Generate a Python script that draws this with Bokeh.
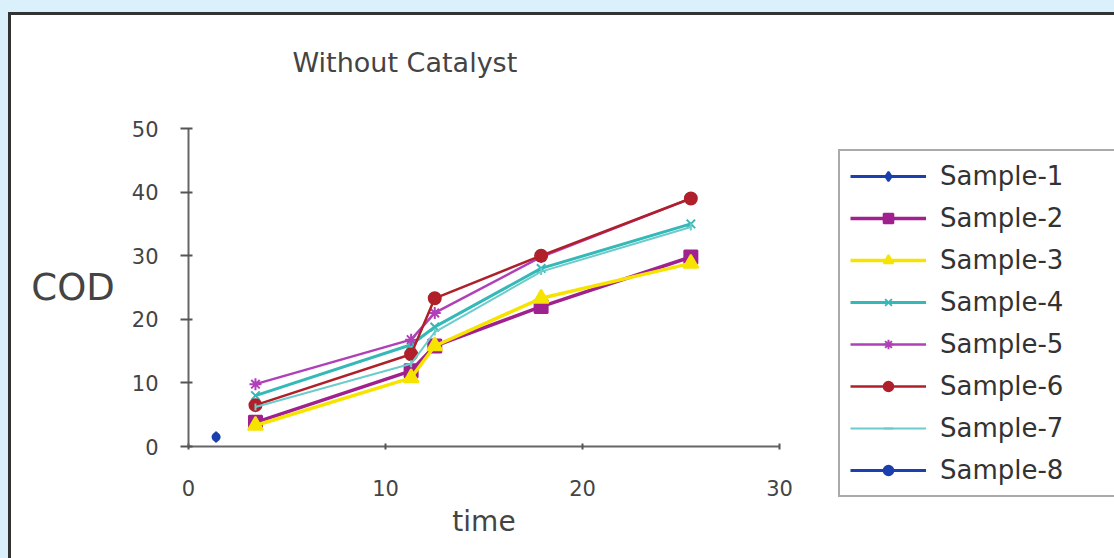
from bokeh.plotting import figure
from bokeh.models import Range1d, Legend, LegendItem, FixedTicker, Title
from bokeh.layouts import column, row
from bokeh.embed import file_html
from bokeh.resources import INLINE
import math

# ---- data ----
time_pts = [3.4, 11.3, 12.5, 17.9, 25.5]
sample1_x = [1.4]
sample1_y = [1.5]
sample2 = [3.8, 11.9, 15.8, 22.0, 29.8]
sample3 = [3.3, 10.8, 15.8, 23.3, 28.8]
sample4 = [8.0, 16.0, 18.8, 28.0, 35.0]
sample5 = [9.8, 16.8, 21.0, 29.8, 39.0]
sample6 = [6.5, 14.5, 23.3, 30.0, 39.0]
sample7 = [6.2, 13.0, 18.0, 27.5, 34.5]
sample8_x = [1.4]
sample8_y = [1.5]
x_ticks = [0, 10, 20, 30]
y_ticks = [0, 10, 20, 30, 40, 50]
labels = ["Sample-1", "Sample-2", "Sample-3", "Sample-4",
          "Sample-5", "Sample-6", "Sample-7", "Sample-8"]

OX, OY = 11, 15            # where the white panel starts in the page
SPLIT = 830                # page x where the legend figure starts
H = 558 - OY
FL, FR, FT, FB = 188 - OX, 779 - OX, 128 - OY, 446 - OY
PW = SPLIT - OX

FONT = "DejaVu Sans"

# ---------------- chart ----------------
p = figure(width=PW, height=H, output_backend="svg", toolbar_location=None,
           x_range=Range1d(0, 30), y_range=Range1d(0, 50),
           min_border_left=FL, min_border_right=PW - FR,
           min_border_top=FT, min_border_bottom=H - FB)
p.frame_align = False
p.border_fill_color = "white"
p.background_fill_color = "white"
p.outline_line_color = None
p.xgrid.visible = False
p.ygrid.visible = False

for ax in (p.xaxis[0], p.yaxis[0]):
    ax.axis_line_color = "#666666"
    ax.axis_line_width = 2
    ax.major_tick_line_color = "#555555"
    ax.major_tick_line_width = 2
    ax.minor_tick_line_color = None
    ax.major_label_text_font = FONT
    ax.major_label_text_font_size = "21px"
    ax.major_label_text_color = "#444444"
    ax.axis_label_text_font = FONT
    ax.axis_label_text_font_style = "normal"
    ax.axis_label_text_color = "#444444"
p.xaxis.ticker = FixedTicker(ticks=x_ticks)
p.yaxis.ticker = FixedTicker(ticks=y_ticks)
p.xaxis.major_tick_in = 3
p.xaxis.major_tick_out = 3
p.xaxis.major_label_standoff = 30
p.xaxis.axis_label = "time"
p.xaxis.axis_label_text_font_size = "28px"
p.xaxis.axis_label_standoff = 6
p.yaxis.major_tick_in = 4
p.yaxis.major_tick_out = 8
p.yaxis.major_label_standoff = 22
p.yaxis.axis_label = "COD"
p.yaxis.axis_label_text_font_size = "37px"
p.yaxis.axis_label_orientation = "horizontal"
p.yaxis.axis_label_standoff = 14

p.title.text = "Without Catalyst"
p.title.align = "left"
p.title.offset = 292 - 188
p.title.text_font = FONT
p.title.text_font_size = "27px"
p.title.text_font_style = "normal"
p.title.text_color = "#444444"
p.title.standoff = 56
# small spacer between the title and the plot area
p.add_layout(Title(text=" ", text_font_size="10px", standoff=10), "above")

STYLE = [
    dict(color="#1a3fae", marker="diamond", size=10, lw=3),
    dict(color="#a0208f", marker="square", size=13, lw=3.5),
    dict(color="#f6e400", marker="triangle", size=15, lw=3.5),
    dict(color="#35b8b8", marker="x", size=12, lw=3),
    dict(color="#b040b8", marker="asterisk", size=12, lw=2.5),
    dict(color="#b0202a", marker="circle", size=12, lw=2.5),
    dict(color="#6ccccc", marker="dash", size=7, lw=2),
    dict(color="#1a3fae", marker="circle", size=7, lw=3),
]
XS = [sample1_x, time_pts, time_pts, time_pts, time_pts, time_pts, time_pts, sample8_x]
YS = [sample1_y, sample2, sample3, sample4, sample5, sample6, sample7, sample8_y]
ORDER = [7, 0, 1, 2, 3, 4, 5, 6]


def draw(fig, i):
    s = STYLE[i]
    ln = fig.line(XS[i], YS[i], color=s["color"], line_width=s["lw"])
    sc = fig.scatter(XS[i], YS[i], marker=s["marker"], size=s["size"],
                     color=s["color"], line_width=2,
                     angle=(math.pi / 2 if s["marker"] == "dash" else 0.0))
    return [ln, sc]


for i in ORDER:
    draw(p, i)

# ---------------- legend panel ----------------
QW = 1114 - SPLIT
q = figure(width=QW, height=H, output_backend="svg", toolbar_location=None,
           x_range=Range1d(100, 101), y_range=Range1d(100, 101),
           x_axis_location=None, y_axis_location=None,
           min_border_left=0, min_border_right=0,
           min_border_top=0, min_border_bottom=0)
q.frame_align = False
q.border_fill_color = "white"
q.background_fill_color = "white"
q.outline_line_color = None
q.xgrid.visible = False
q.ygrid.visible = False

rq = {i: draw(q, i) for i in range(8)}
legend = Legend(items=[LegendItem(label=labels[i], renderers=rq[i]) for i in range(8)],
                location=(838 - SPLIT, 558 - 497),
                glyph_width=76, glyph_height=24, label_height=24, label_width=260,
                spacing=12, padding=10, margin=0, label_standoff=14,
                label_text_font=FONT, label_text_font_size="26px",
                label_text_color="#333333",
                border_line_color="#555555", border_line_width=2,
                background_fill_color="white", background_fill_alpha=1.0)
q.add_layout(legend)

body = row(p, q, margin=(OY - 3, 0, 0, OX - 3),
           styles={"border-top": "3px solid #333333",
                   "border-left": "3px solid #333333",
                   "background-color": "white"})
page = column(body, width=1114, height=558,
              styles={"background-color": "#daf0fb", "overflow": "hidden"})

open("out.html", "w").write(file_html(page, INLINE))
